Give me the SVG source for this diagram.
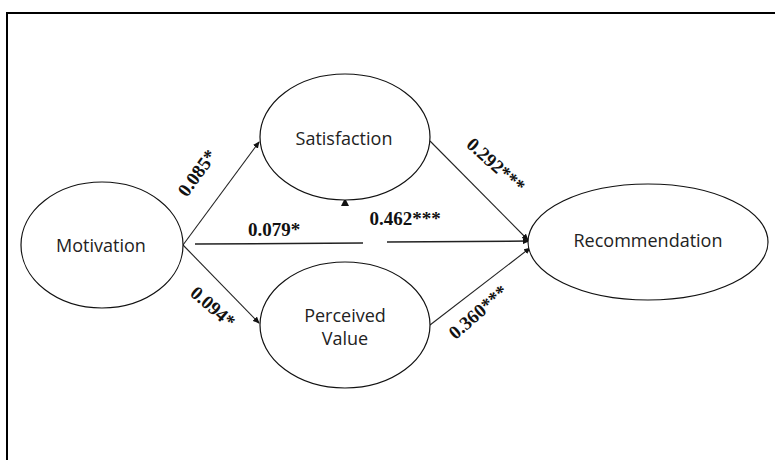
<svg xmlns="http://www.w3.org/2000/svg" width="775" height="460" viewBox="0 0 775 460">
  <style>
    .node ellipse { fill: #ffffff; stroke: #111111; stroke-width: 1.2; }
    .node text { font-family: "Open Sans", "Noto Sans", sans-serif; font-size: 18px; fill: #222222; text-anchor: middle; dominant-baseline: central; }
    .conn line { stroke: #222222; stroke-width: 1.1; }
    .lbl { font-family: "Liberation Serif", "Times New Roman", serif; font-weight: bold; font-size: 19px; fill: #111111; text-anchor: middle; dominant-baseline: central; }
  </style>
  <defs>
    <marker id="arr" markerWidth="7" markerHeight="6" refX="6" refY="3" orient="auto" markerUnits="userSpaceOnUse">
      <path d="M0,0 L7,3 L0,6 Z" fill="#111111"/>
    </marker>
  </defs>
  <rect x="0" y="0" width="775" height="460" fill="#ffffff"/>
  <rect x="7" y="13" width="820" height="520" fill="none" stroke="#000000" stroke-width="2"/>

  <g id="connectors" class="conn">
    <line x1="183" y1="245" x2="259" y2="142" marker-end="url(#arr)"/>
    <line x1="183" y1="245" x2="259" y2="323" marker-end="url(#arr)"/>
    <line x1="195" y1="244" x2="363" y2="243" style="stroke-width:1.5"/>
    <line x1="387" y1="242" x2="529" y2="241" style="stroke-width:1.5" marker-end="url(#arr)"/>
    <line x1="430" y1="141" x2="528" y2="240" marker-end="url(#arr)"/>
    <line x1="430" y1="325" x2="530" y2="248" marker-end="url(#arr)"/>
    <path d="M341,206 L345,198 L349,206 Z" fill="#111111"/>
  </g>

  <g id="labels">
    <text class="lbl" transform="translate(197,173) rotate(-54)">0.085*</text>
    <text class="lbl" transform="translate(213,307) rotate(41)">0.094*</text>
    <text class="lbl" x="274" y="229">0.079*</text>
    <text class="lbl" x="405" y="218">0.462***</text>
    <text class="lbl" transform="translate(496,165) rotate(42)">0.292***</text>
    <text class="lbl" transform="translate(478,312) rotate(-41)">0.360***</text>
  </g>

  <g id="motivation" class="node">
    <ellipse cx="102" cy="245" rx="81" ry="63"/>
    <text x="101" y="245">Motivation</text>
  </g>
  <g id="satisfaction" class="node">
    <ellipse cx="345" cy="137" rx="85" ry="63"/>
    <text x="344" y="138">Satisfaction</text>
  </g>
  <g id="perceived-value" class="node">
    <ellipse cx="345" cy="325" rx="85" ry="63"/>
    <text x="345" y="315">Perceived</text>
    <text x="345" y="338">Value</text>
  </g>
  <g id="recommendation" class="node">
    <ellipse cx="648" cy="242" rx="120" ry="58"/>
    <text x="648" y="240">Recommendation</text>
  </g>
</svg>
